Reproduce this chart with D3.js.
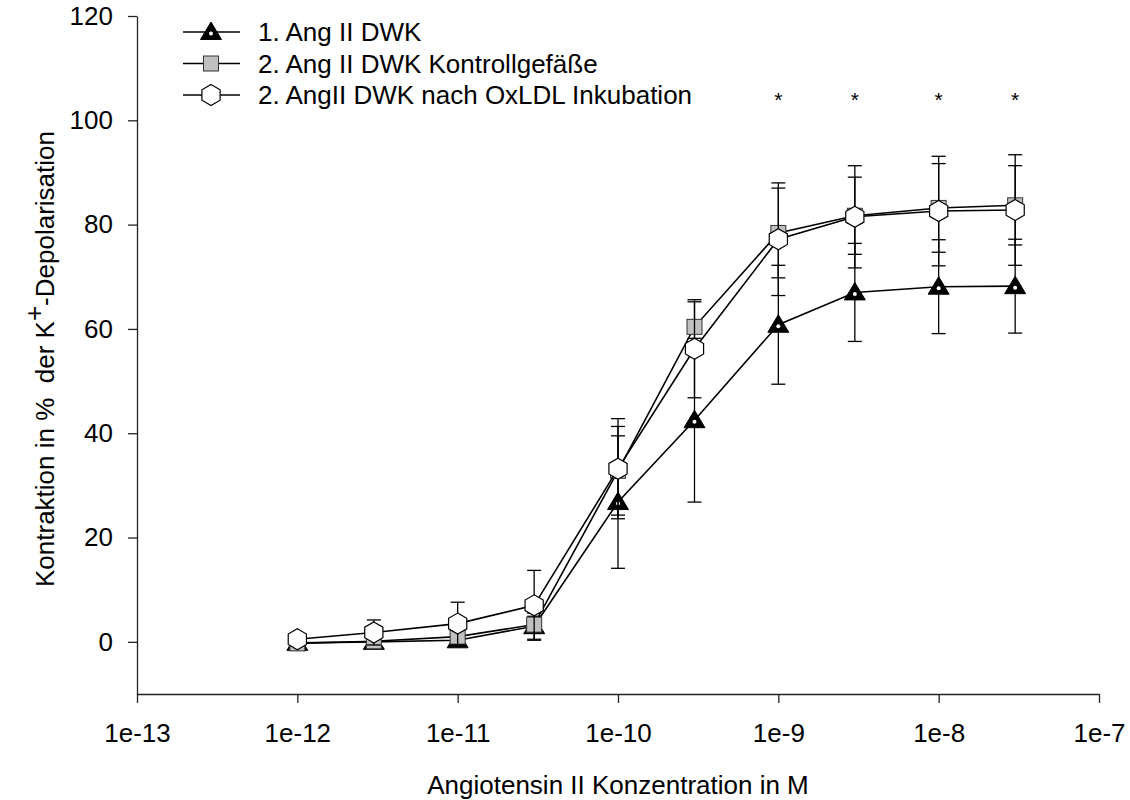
<!DOCTYPE html>
<html>
<head>
<meta charset="utf-8">
<script src="https://cdn.jsdelivr.net/npm/d3@7"></script>
<style>
  body { margin: 0; background: #fff; }
  svg text { font-family: "Liberation Sans", Arial, sans-serif; fill: #000; }
</style>
</head>
<body>
<svg width="1130" height="800"></svg>
<script>
// concentrations (M)
const conc = [1e-12, 3e-12, 1e-11, 3e-11, 1e-10, 3e-10, 1e-9, 3e-9, 1e-8, 3e-8]

// 1. Ang II DWK
const angDwk = [-0.2, 0.0, 0.3, 3.0, 26.8, 42.5, 60.8, 67.0, 68.1, 68.2]
const angDwkErr = [0.5, 0.6, 0.8, 2.5, 12.7, 15.7, 11.4, 9.4, 9.0, 9.0]

// 2. Ang II DWK Kontrollgefäße
const kontroll = [-0.3, 0.1, 1.0, 3.3, 32.8, 60.4, 78.4, 81.7, 83.2, 83.7]
const kontrollErr = [0.5, 0.8, 1.2, 1.6, 8.5, 4.8, 8.6, 7.4, 8.5, 7.6]

// 2. AngII DWK nach OxLDL Inkubation
const oxldl = [0.5, 1.8, 3.5, 7.0, 33.2, 56.2, 77.2, 81.5, 82.6, 82.8]
const oxldlErr = [0.4, 2.4, 4.1, 6.7, 9.6, 9.4, 10.8, 9.8, 10.5, 10.6]

const xTicks = [1e-13, 1e-12, 1e-11, 1e-10, 1e-9, 1e-8, 1e-7]
const xTickLabels = ["1e-13", "1e-12", "1e-11", "1e-10", "1e-9", "1e-8", "1e-7"]
const yTicks = [0, 20, 40, 60, 80, 100, 120]
const starConc = [1e-9, 3e-9, 1e-8, 3e-8]

const seriesNames = ["1. Ang II DWK", "2. Ang II DWK Kontrollgefäße", "2. AngII DWK nach OxLDL Inkubation"]

const svg = d3.select("svg")
const x = d3.scaleLog().domain([1e-13, 1e-7]).range([137, 1099])
const y = d3.scaleLinear().domain([-10, 120]).range([694, 16])

// axes
const xAxis = svg.append("g")
  .attr("transform", `translate(0, ${y(-10)})`)
  .call(d3.axisBottom(x).tickValues(xTicks).tickFormat((d, i) => xTickLabels[i]).tickSize(9).tickSizeOuter(0))
const yAxis = svg.append("g")
  .attr("transform", `translate(${x(1e-13)}, 0)`)
  .call(d3.axisLeft(y).tickValues(yTicks).tickSize(9).tickSizeOuter(0))

svg.selectAll(".domain, .tick line").attr("stroke", "#222").attr("stroke-width", 1.3)
xAxis.attr("font-size", 26)
yAxis.attr("font-size", 26)
xAxis.selectAll(".tick text").attr("y", 48).attr("dy", 0)
yAxis.selectAll(".tick text").attr("x", -24)

svg.append("text")
  .attr("x", 618)
  .attr("y", 794)
  .attr("text-anchor", "middle")
  .attr("font-size", 26)
  .text("Angiotensin II Konzentration in M")

const yLabel = svg.append("text")
  .attr("transform", "translate(54, 359) rotate(-90)")
  .attr("text-anchor", "middle")
  .attr("font-size", 26)
  .attr("xml:space", "preserve")
yLabel.append("tspan").text("Kontraktion in %  der K")
yLabel.append("tspan").attr("dy", -11).text("+")
yLabel.append("tspan").attr("dy", 11).text("-Depolarisation")

// marker drawing
const hexPath = d3.line()(d3.range(6).map(k => {
  const a = Math.PI / 3 * k - Math.PI / 2
  return [10.5 * Math.cos(a), 10.5 * Math.sin(a)]
})) + "Z"

function drawMarker(g, type) {
  if (type === "tri") {
    g.append("path").attr("d", "M0,-10 L10.5,7.5 L-10.5,7.5 Z").attr("fill", "#000").attr("stroke", "#000")
    g.append("circle").attr("r", 2).attr("cy", 1.5).attr("fill", "#fff")
  } else if (type === "sq") {
    g.append("rect").attr("x", -7.5).attr("y", -7.5).attr("width", 15).attr("height", 15)
      .attr("fill", "#c0c0c0").attr("stroke", "#333").attr("stroke-width", 1)
  } else {
    g.append("path").attr("d", hexPath).attr("fill", "#fff").attr("stroke", "#000").attr("stroke-width", 1.2)
  }
}

const series = [
  { vals: angDwk, err: angDwkErr, type: "tri" },
  { vals: kontroll, err: kontrollErr, type: "sq" },
  { vals: oxldl, err: oxldlErr, type: "hex" }
]

const line = d3.line().x((d, i) => x(conc[i])).y(d => y(d))

series.forEach(s => {
  const g = svg.append("g")
  // error bars
  s.vals.forEach((v, i) => {
    const cx = x(conc[i])
    const lo = y(v - s.err[i])
    const hi = y(v + s.err[i])
    g.append("line").attr("x1", cx).attr("x2", cx).attr("y1", lo).attr("y2", hi)
      .attr("stroke", "#000").attr("stroke-width", 1.3)
    ;[lo, hi].forEach(py => {
      g.append("line").attr("x1", cx - 7).attr("x2", cx + 7).attr("y1", py).attr("y2", py)
        .attr("stroke", "#000").attr("stroke-width", 1.3)
    })
  })
  g.append("path").attr("d", line(s.vals)).attr("fill", "none")
    .attr("stroke", "#000").attr("stroke-width", 1.6)
  s.vals.forEach((v, i) => {
    drawMarker(g.append("g").attr("transform", `translate(${x(conc[i])}, ${y(v)})`), s.type)
  })
})

// significance stars
svg.selectAll("text.star")
  .data(starConc)
  .enter()
  .append("text")
  .attr("class", "star")
  .attr("x", d => x(d))
  .attr("y", y(102.5))
  .attr("text-anchor", "middle")
  .attr("font-size", 21)
  .text("*")

// legend
const legend = svg.append("g")
series.forEach((s, i) => {
  const ly = 32 + i * 31.5
  legend.append("line").attr("x1", 183).attr("x2", 240).attr("y1", ly).attr("y2", ly)
    .attr("stroke", "#000").attr("stroke-width", 1.6)
  drawMarker(legend.append("g").attr("transform", `translate(211, ${ly})`), s.type)
  legend.append("text").attr("x", 258).attr("y", ly + 9).attr("font-size", 26).text(seriesNames[i])
})
</script>
</body>
</html>
